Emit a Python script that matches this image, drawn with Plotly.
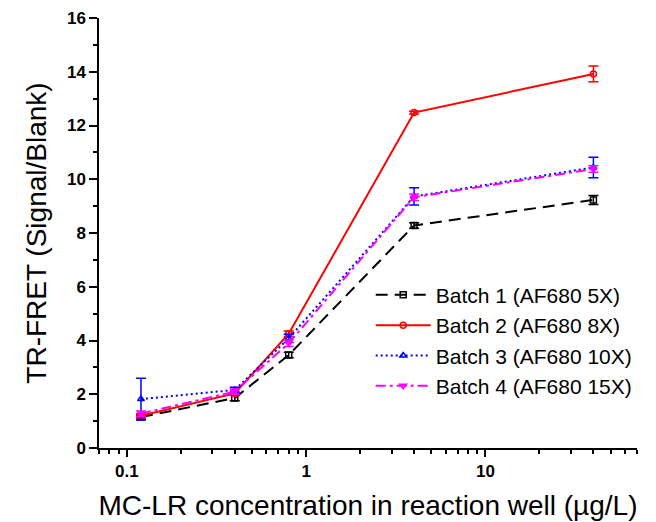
import numpy as np
import plotly.graph_objects as go

conc = [0.12, 0.4, 0.8, 4, 40]

names = ["Batch 1 (AF680 5X)", "Batch 2 (AF680 8X)", "Batch 3 (AF680 10X)", "Batch 4 (AF680 15X)"]
b1 = [1.15, 1.86, 3.46, 8.28, 9.23]
b1_err = [0.08, 0.1, 0.1, 0.1, 0.17]
b2 = [1.2, 2.03, 4.25, 12.48, 13.92]
b2_err = [0.07, 0.08, 0.1, 0.05, 0.29]
b3 = [1.82, 2.16, 4.08, 9.36, 10.44]
b3_err = [0.78, 0.1, 0.15, 0.32, 0.38]
b4 = [1.28, 2.1, 3.9, 9.33, 10.38]
b4_err = [0.1, 0.1, 0.12, 0.12, 0.12]

colors = ["#000000", "#ff0000", "#0000ff", "#ff00ff"]
dashes = ["12px,7px", "solid", "2px,3px", "10px,4px,3px,4px"]
symbols = ["square-open", "circle-open", "triangle-up-open", "triangle-down-open"]

x_major = [0.1, 1, 10]
x_major_text = ["0.1", "1", "10"]
x_minor = [0.07, 0.08, 0.09, 0.2, 0.3, 0.4, 0.5, 0.6, 0.7, 0.8, 0.9,
           2, 3, 4, 5, 6, 7, 8, 9, 20, 30, 40, 50, 60, 70]
y_major = [0, 2, 4, 6, 8, 10, 12, 14, 16]

fig = go.Figure()
for i, (ys, es) in enumerate([(b1, b1_err), (b2, b2_err), (b3, b3_err), (b4, b4_err)]):
    fig.add_trace(go.Scatter(
        x=conc, y=ys, name=names[i], mode="lines+markers",
        line=dict(color=colors[i], width=2, dash=dashes[i]),
        marker=dict(symbol=symbols[i], size=6, color=colors[i], line=dict(width=1.5, color=colors[i])),
        error_y=dict(type="data", array=es, color=colors[i], thickness=1.5, width=5),
    ))

# page body adds an 8px margin, so the figure is 8px smaller and offset accordingly
fig.update_layout(
    width=648, height=514,
    margin=dict(l=91, r=19, t=10, b=74),
    paper_bgcolor="white", plot_bgcolor="white",
    font=dict(family="Liberation Sans, Arial, sans-serif", color="black"),
    showlegend=True,
    legend=dict(x=0.505, y=0.403, xanchor="left", yanchor="top",
                font=dict(size=21, color="black"), bgcolor="rgba(0,0,0,0)",
                itemwidth=55),
    xaxis=dict(type="log", range=[np.log10(0.07), np.log10(70)], automargin=False,
               tickvals=x_major, ticktext=x_major_text,
               ticks="outside", ticklen=7, tickwidth=1.5, tickcolor="black",
               minor=dict(tickvals=x_minor, ticks="outside", ticklen=4, tickwidth=1.5, tickcolor="black"),
               showline=True, linecolor="black", linewidth=1.5, mirror=False,
               showgrid=False, zeroline=False,
               tickfont=dict(size=17, weight="bold"),
               title=dict(text="MC-LR concentration in reaction well (µg/L)", font=dict(size=28), standoff=15)),
    yaxis=dict(range=[0, 16], tickvals=y_major, automargin=False,
               ticks="outside", ticklen=8, tickwidth=1.5, tickcolor="black",
               minor=dict(dtick=1, ticks="outside", ticklen=4, tickwidth=1.5, tickcolor="black"),
               showline=True, linecolor="black", linewidth=1.5, mirror=False,
               showgrid=False, zeroline=False,
               tickfont=dict(size=17, weight="bold"),
               title=dict(text="TR-FRET (Signal/Blank)", font=dict(size=28), standoff=12)),
)

fig.write_html("out.html")
